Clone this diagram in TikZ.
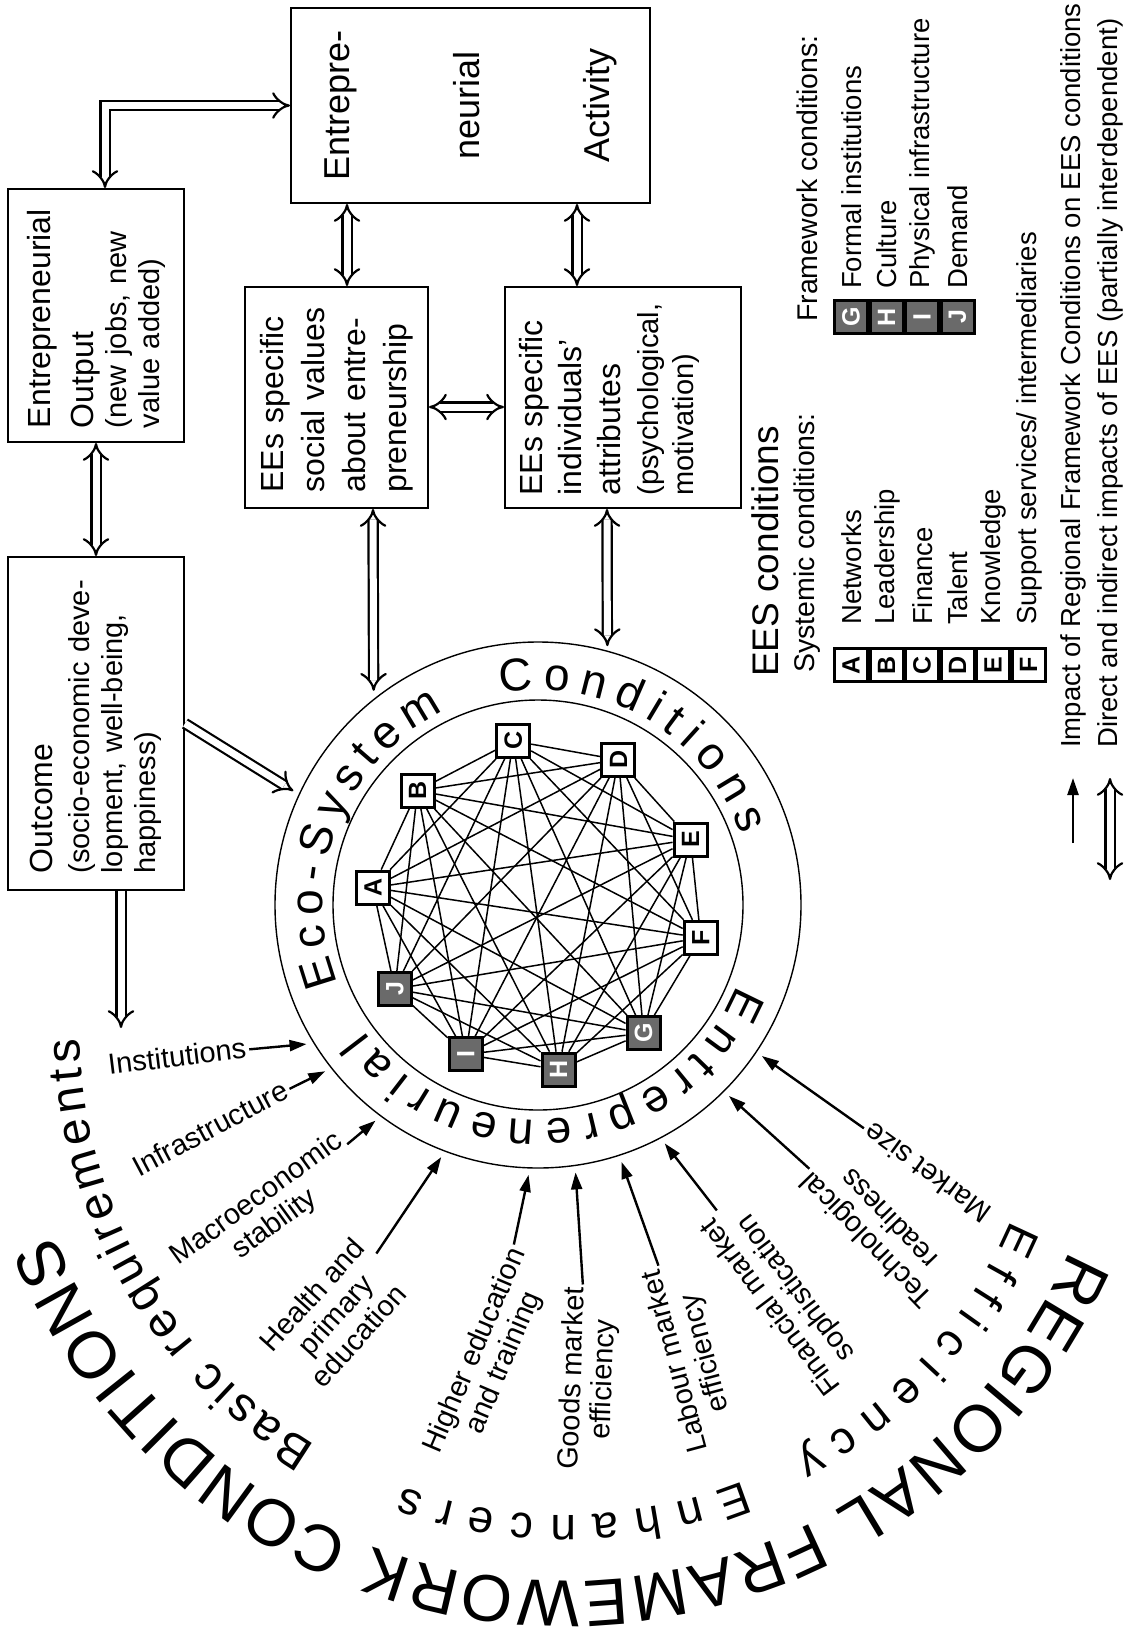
\documentclass[tikz,border=0pt]{standalone}
\usepackage{fontspec}
\setmainfont{Liberation Sans}
\usetikzlibrary{arrows.meta,decorations.text,positioning}

\definecolor{fcgray}{HTML}{6A6A6A}

\newcommand{\hfont}{\fontsize{32}{38}\selectfont}
\newcommand{\sfont}{\fontsize{29}{33}\selectfont}
\newcommand{\lfont}{\fontsize{29}{31}\selectfont}
\newcommand{\ifont}{\fontsize{27.5}{30}\selectfont}
\newcommand{\ringfont}{\fontsize{46}{46}\selectfont}
\newcommand{\arcfont}{\fontsize{48}{48}\selectfont}
\newcommand{\bigfont}{\fontsize{66}{66}\selectfont}

\tikzset{
  box/.style={draw, line width=2pt, rotate=90, inner sep=0pt},
  dbl/.style={double, double distance=7pt, line width=2.2pt},
  twoway/.style={dbl, {Implies[length=12pt,width=28pt]}-{Implies[length=12pt,width=28pt]}},
  oneway/.style={dbl, -{Implies[length=12pt,width=28pt]}},
  impact/.style={line width=2.4pt, -{Triangle[length=17pt,width=11pt]}},
  link/.style={line width=1.5pt},
  ees/.style={draw, line width=3pt, fill=white, rotate=90, minimum size=33pt, inner sep=0pt, font=\fontsize{25}{25}\selectfont\bfseries},
  fc/.style={ees, fill=fcgray, text=white},
  lbl/.style={font=\lfont, align=center, inner sep=3pt},
  item/.style={rotate=90, anchor=west, font=\ifont, inner sep=0pt},
  arctext/.style={decorate, decoration={text along path, text align=fit to path, text={#1}}},
}

\begin{document}
\begin{tikzpicture}[x=1pt,y=-1pt]
\useasboundingbox[fill=white] (0,0) rectangle (1129,1631);

% boxes
\node[box, minimum width=253pt, minimum height=176pt, text width=225pt, align=left, font=\sfont] (output) at (96,315.5)
  {{\hfont Entrepreneurial}\\[10pt]{\hfont Output}\\(new jobs, new\\value added)};
\node[box, minimum width=333pt, minimum height=176pt, text width=300pt, align=left, font=\sfont] (outcome) at (96,723.5)
  {{\hfont Outcome}\\[4pt](socio-economic deve-\\lopment, well-being,\\happiness)};
\node[box, minimum width=195pt, minimum height=359pt, align=center, font=\fontsize{36}{130}\selectfont] (activity) at (470.5,105.5)
  {Entrepre-\\neurial\\Activity};
\node[box, minimum width=221pt, minimum height=183pt, text width=190pt, align=left, font=\fontsize{32}{41}\selectfont] (social) at (336.5,397.5)
  {EEs specific\\social values\\about entre-\\preneurship};
\node[box, minimum width=221pt, minimum height=236pt, text width=196pt, align=left, font=\sfont] (indiv) at (623,397.5)
  {{\hfont EEs specific}\\[6pt]{\hfont individuals’}\\[6pt]{\hfont attributes}\\[5pt](psychological,\\[2pt]motivation)\\\mbox{}};

% eco-system circle
\begin{scope}[shift={(538,905)}]
  \draw[line width=1.4pt] (0,0) circle[radius=263];
  \draw[line width=1.4pt] (0,0) circle[radius=205];
  \path[arctext={|\ringfont|Eco-System}] (158.5:215) arc[start angle=158.5, end angle=244, radius=215];
  \path[arctext={|\ringfont|Conditions}] (260:215) arc[start angle=260, end angle=341, radius=215];
  \path[arctext={|\ringfont|Entrepreneurial}] (22:215) arc[start angle=22, end angle=144, radius=215];
  \foreach \n/\a in {A/186,B/223.5,C/261.4,D/299,E/336.8,F/371.4}
    \node[ees] (\n) at (\a:166) {\n};
  \foreach \n/\a in {G/50.5,H/82.9,I/115.8,J/149.6}
    \node[fc] (\n) at (\a:166) {\n};
  \foreach \nm/\a in {inst/149,infra/142,macro/127,health/111,higher/92,goods/82,labour/72,finance/62,techno/45,msize/34,out/205}
    \coordinate (t-\nm) at (\a:270);
  \coordinate (sv) at (232.5:270);
  \coordinate (iv) at (285:268);
\end{scope}
\foreach \a [count=\i] in {A,...,J}
  \foreach \b [count=\j] in {A,...,J}
    {\ifnum\i<\j\relax \draw[link] (\a) -- (\b);\fi}

% regional framework arcs
\begin{scope}[shift={(565,1030)}]
  \path[arctext={|\arcfont|Basic requirements}] (121:485) arc[start angle=121, end angle=179, radius=485];
  \path[arctext={|\ringfont|Efficiency}] (23.1:485) arc[start angle=23.1, end angle=61.6, radius=485];
  \path[arctext={|\ringfont|Enhancers}] (68.4:485) arc[start angle=68.4, end angle=109.5, radius=485];
  \path[arctext={|\bigfont|REGIONAL FRAMEWORK CONDITIONS}] (23.6:551) arc[start angle=23.6, end angle=158.1, radius=551];
\end{scope}

% pillars
\node[lbl, rotate=7] (inst) at (177,1056) {Institutions};
\node[lbl, rotate=28] (infra) at (210,1128) {Infrastructure};
\node[lbl, rotate=36] (macro) at (266,1212) {Macroeconomic\\stability};
\node[lbl, rotate=48] (health) at (335,1315) {Health and\\primary\\education};
\node[lbl, rotate=67] (higher) at (490,1357) {Higher education\\and training};
\node[lbl, rotate=88] (goods) at (589,1379) {Goods market\\efficiency};
\node[lbl, rotate=105] (labour) at (691,1357) {Labour market\\efficiency};
\node[lbl, rotate=127] (finance) at (784,1297) {Financial market\\sophistication};
\node[lbl, rotate=134] (techno) at (877,1230) {Technological\\readiness};
\node[lbl, rotate=144] (msize) at (927,1173) {Market size};
\foreach \nm in {inst,infra,macro,health,higher,goods,labour,finance,techno,msize}
  \draw[impact] (\nm) -- (t-\nm);

% double arrows
\coordinate (ob) at (121,1028);
\draw[twoway] (output.west) -- (outcome.east);
\draw[twoway] ([xshift=9pt]output.east) |- (activity.north);
\draw[twoway] ([xshift=-123.5pt]activity.west) -- ([xshift=10.5pt]social.east);
\draw[twoway] ([xshift=106.5pt]activity.west) -- ([xshift=-46pt]indiv.east);
\draw[twoway] ([yshift=-9.5pt]social.south) -- ([yshift=-9.5pt]indiv.north);
\draw[twoway] ([xshift=36.5pt]social.west) -- (sv);
\draw[twoway] ([xshift=-16pt]indiv.west) -- (iv);
\draw[oneway] (outcome.south) -- (t-out);
\draw[oneway] ([xshift=25pt]outcome.west) -- (ob);

% legend
\node[item, font=\fontsize{37}{37}\selectfont] (eeshead) at (765,677) {EES conditions};
\node[item, font=\fontsize{28.5}{30}\selectfont] (syshead) at (807,673) {Systemic conditions:};
\node[item, font=\fontsize{28.5}{30}\selectfont] (fwhead) at (807,322) {Framework conditions:};
\foreach \l [count=\i] in {A,...,F}
  \node[ees] (k\l) at (815.5+35.5*\i,665) {\l};
\foreach \l [count=\i] in {G,...,J}
  \node[fc] (k\l) at (815.5+35.5*\i,317) {\l};
\foreach \t [count=\i] in {Networks,Leadership,Finance,Talent,Knowledge,Support services/ intermediaries}
  \node[item] (it\i) at (816+35.5*\i,625) {\t};
\foreach \t [count=\i] in {Formal institutions,Culture,Physical infrastructure,Demand}
  \node[item] (fw\i) at (816+35.5*\i,289) {\t};
\node[item] (leg1) at (1073,748) {Impact of Regional Framework Conditions on EES conditions};
\node[item] (leg2) at (1110,748) {Direct and indirect impacts of EES (partially interdependent)};
\draw[impact] ([yshift=-95pt]leg1.west) -- ([yshift=-30pt]leg1.west);
\draw[twoway] ([yshift=-132pt]leg2.west) -- ([yshift=-30pt]leg2.west);
\end{tikzpicture}
\end{document}
